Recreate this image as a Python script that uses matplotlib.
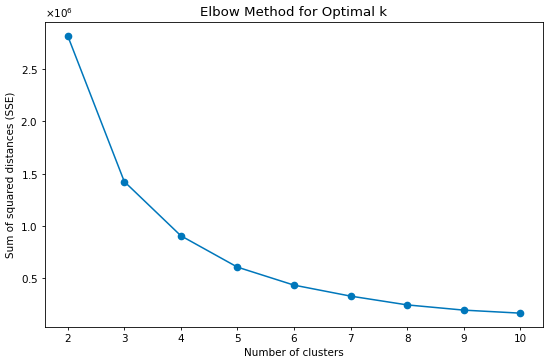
import matplotlib
matplotlib.use("Agg")
import matplotlib.pyplot as plt

# elbow curve values
k_values = [2, 3, 4, 5, 6, 7, 8, 9, 10]
sse = [2.816e6, 1.423e6, 0.905e6, 0.605e6, 0.433e6, 0.328e6, 0.244e6, 0.194e6, 0.165e6]

fig = plt.figure(figsize=(5.5, 3.64), dpi=100)
ax = fig.add_axes([0.082, 0.1016, 0.905, 0.838])
ax.plot(k_values, sse, marker='o', color='#0077bb', linewidth=1.1, markersize=4.5)
ax.set_title("Elbow Method for Optimal k", fontsize=9.6, pad=4.5)
ax.set_xlabel("Number of clusters", fontsize=7.5, labelpad=3)
ax.set_ylabel("Sum of squared distances (SSE)", fontsize=7.5, labelpad=3)
ax.ticklabel_format(axis='y', style='sci', scilimits=(0, 0), useMathText=True)
ax.tick_params(labelsize=7.5, width=0.6, length=2.5, pad=2.5)
ax.yaxis.get_offset_text().set_fontsize(7.5)
for sp in ax.spines.values():
    sp.set_linewidth(0.6)
ax.set_xticks(k_values)

fig.savefig("out.png", dpi=100)
